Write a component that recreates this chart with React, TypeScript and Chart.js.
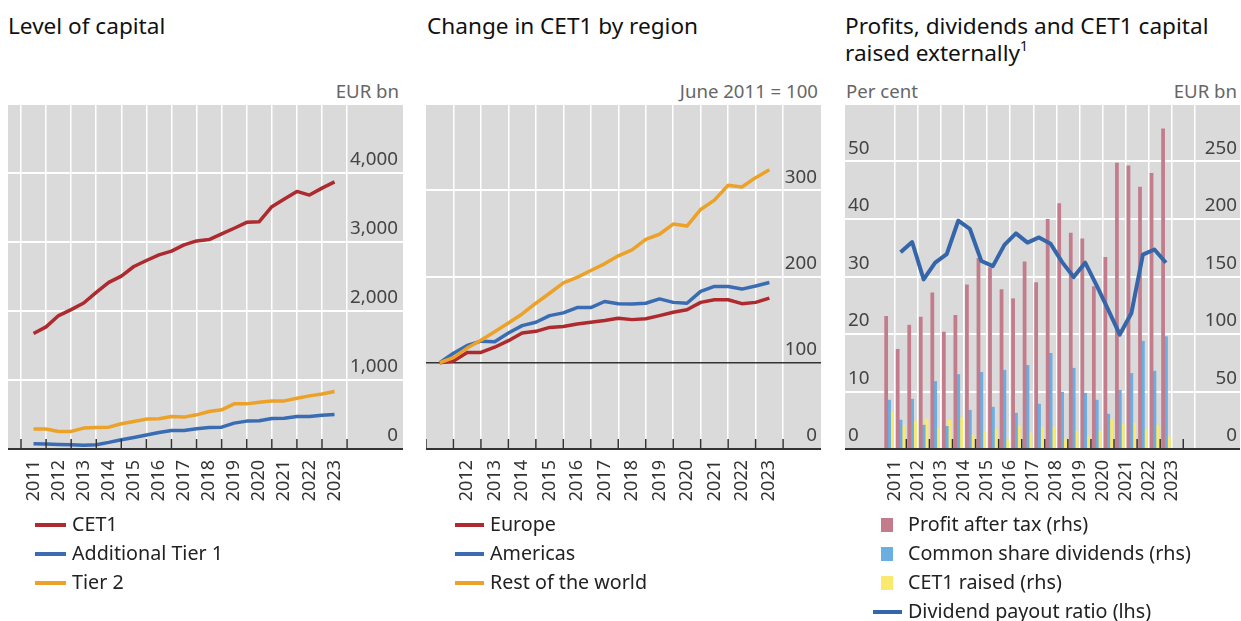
import React, { useEffect, useRef } from 'react';
import { Chart, registerables } from 'chart.js';

Chart.register(...registerables);

const FONT = '"Noto Sans", "Open Sans", "DejaVu Sans", sans-serif';

// ---------- shared periods (half-years) ----------
const PERIODS = [
  'H1 2011', 'H2 2011', 'H1 2012', 'H2 2012', 'H1 2013', 'H2 2013', 'H1 2014', 'H2 2014',
  'H1 2015', 'H2 2015', 'H1 2016', 'H2 2016', 'H1 2017', 'H2 2017', 'H1 2018', 'H2 2018',
  'H1 2019', 'H2 2019', 'H1 2020', 'H2 2020', 'H1 2021', 'H2 2021', 'H1 2022', 'H2 2022',
  'H1 2023',
];
const PAYOUT_PERIODS = [
  'H2 2011', 'H1 2012', 'H2 2012', 'H1 2013', 'H2 2013', 'H1 2014', 'H2 2014',
  'H1 2015', 'H2 2015', 'H1 2016', 'H2 2016', 'H1 2017', 'H2 2017', 'H1 2018', 'H2 2018',
  'H1 2019', 'H2 2019', 'H1 2020', 'H2 2020', 'H1 2021', 'H2 2021', 'H1 2022', 'H2 2022',
  'H1 2023',
];

// ---------- Panel 1: Level of capital (EUR bn) ----------
const CET1 = [1674, 1770, 1934, 2020, 2116, 2270, 2415, 2506, 2645, 2732, 2814, 2867, 2958, 3016, 3035, 3117, 3199, 3285, 3295, 3511, 3622, 3733, 3680, 3781, 3872];
const AT1 = [77, 72, 67, 62, 53, 62, 96, 135, 168, 202, 240, 269, 269, 293, 313, 317, 375, 404, 409, 443, 447, 471, 471, 490, 500];
const TIER2 = [289, 289, 255, 255, 303, 313, 317, 366, 399, 433, 438, 471, 462, 495, 543, 568, 654, 654, 678, 697, 697, 736, 770, 798, 832];
const CAP_YEAR_LABELS = ['2011', '2012', '2013', '2014', '2015', '2016', '2017', '2018', '2019', '2020', '2021', '2022', '2023'];
const CAP_GRID_YEARS = [2011, 2012, 2013, 2014, 2015, 2016, 2017, 2018, 2019, 2020, 2021, 2022, 2023, 2024];
const CAP_Y_GRID = [0, 1000, 2000, 3000, 4000, 5000];
const CAP_Y_LABELS = [0, 1000, 2000, 3000, 4000];

// ---------- Panel 2: Change in CET1 by region (June 2011 = 100) ----------
const EUROPE = [100, 102, 112, 112, 118, 125.6, 134.5, 136.4, 141, 142, 145, 147, 149, 151.6, 150, 151, 154.6, 158.5, 161.5, 170, 173, 173, 168.5, 170, 175];
const AMERICAS = [100, 111, 120, 125, 124.4, 134.5, 143, 147, 154.6, 157.8, 164, 164, 171, 168.5, 168, 169, 174, 170, 169, 182.7, 188.5, 188.5, 185.4, 189, 193];
const REST_OF_WORLD = [100, 106, 117, 126, 136, 146, 156.6, 169, 180.6, 192.6, 199, 207, 214.7, 224, 230.8, 243, 249, 260.8, 258.5, 277.7, 288.5, 305.8, 303.8, 314.6, 323.8];
const REG_YEAR_LABELS = ['2012', '2013', '2014', '2015', '2016', '2017', '2018', '2019', '2020', '2021', '2022', '2023'];
const REG_GRID_YEARS = [2012, 2013, 2014, 2015, 2016, 2017, 2018, 2019, 2020, 2021, 2022, 2023, 2024];
const REG_TICK_YEARS = [2011, 2012, 2013, 2014, 2015, 2016, 2017, 2018, 2019, 2020, 2021, 2022, 2023, 2024];
const REG_Y_GRID = [0, 100, 200, 300, 400];
const REG_Y_LABELS = [0, 100, 200, 300];

// ---------- Panel 3: Profits, dividends, CET1 raised ----------
const PROFIT = [115.6, 87, 108, 115, 136, 102, 116.5, 143, 166, 158, 139, 131, 163, 145, 200, 213.6, 188, 183, 141.6, 167, 249, 246.5, 228, 240, 278.6];
const DIVIDENDS = [42.8, 25.4, 43.6, 21, 59, 20, 65, 34, 67, 36.7, 68.8, 31.5, 73, 39.3, 83.5, 49.7, 70.5, 48.8, 42.8, 30.6, 51.4, 66, 94, 68, 98];
const CET1_RAISED = [32.4, 20.8, 24.6, 26.3, 18.5, 25.4, 28, 12.4, 15.9, 17.6, 8.1, 20.2, 14.2, 19.4, 19.4, 9, 15.9, 11.6, 15.9, 26.3, 22, 22.8, 16.8, 21, 10.7];
const PAYOUT = [34.2, 36.0, 29.5, 32.4, 33.9, 39.7, 38.3, 32.7, 31.8, 35.5, 37.5, 35.9, 36.8, 35.7, 32.5, 29.9, 32.4, 28.4, 24.2, 19.9, 23.6, 33.8, 34.7, 32.4];
const PRF_YEAR_LABELS = ['2011', '2012', '2013', '2014', '2015', '2016', '2017', '2018', '2019', '2020', '2021', '2022', '2023'];
const PRF_GRID_YEARS = [2012, 2013, 2014, 2015, 2016, 2017, 2018, 2019, 2020, 2021, 2022, 2023, 2024];
const PRF_L_GRID = [0, 10, 20, 30, 40, 50, 60];
const PRF_L_LABELS = [0, 10, 20, 30, 40, 50];
const PRF_R_GRID = [0, 50, 100, 150, 200, 250, 300];
const PRF_R_LABELS = [0, 50, 100, 150, 200, 250];

// ---------- colours ----------
const RED = '#ad2a2e';
const BLUE = '#3a6cb3';
const ORANGE = '#eca228';
const PINK = '#c27c8c';
const LIGHTBLUE = '#6aaee2';
const YELLOW = '#fbe86e';
const LINEBLUE = '#3566a9';
const PANEL_BG = '#dadada';

// period -> position on a year axis
const endOfHalf = (p: string) => {
  const [h, y] = p.split(' ');
  return Number(y) + (h === 'H1' ? 0.5 : 1.0);
};
const midOfHalf = (p: string) => {
  const [h, y] = p.split(' ');
  return Number(y) + (h === 'H1' ? 0.25 : 0.75);
};
const fmt = (v: number) => v.toLocaleString('en-US');

const PLOT_H = 345;
const LABEL_AXIS_H = 62;
const CANVAS_W = 395;
const CANVAS_H = PLOT_H + LABEL_AXIS_H;

type YLab = { id: string; side: 'left' | 'right'; pad: number; values: number[] };

function decorPlugin(tickYears: number[], yLabels: YLab[]) {
  return {
    id: 'decor',
    beforeDraw(chart: any) {
      const { ctx, chartArea: a } = chart;
      ctx.save();
      ctx.fillStyle = PANEL_BG;
      ctx.fillRect(a.left, a.top, a.right - a.left, a.bottom - a.top);
      ctx.restore();
    },
    afterDraw(chart: any) {
      const { ctx, chartArea: a } = chart;
      const xs = chart.scales.x;
      ctx.save();
      ctx.strokeStyle = '#333';
      ctx.lineWidth = 1.5;
      tickYears.forEach((yr) => {
        const px = xs.getPixelForValue(yr);
        ctx.beginPath();
        ctx.moveTo(px, a.bottom);
        ctx.lineTo(px, a.bottom - 10);
        ctx.stroke();
      });
      ctx.lineWidth = 2;
      ctx.beginPath();
      ctx.moveTo(a.left, a.bottom);
      ctx.lineTo(a.right, a.bottom);
      ctx.stroke();
      ctx.font = `18.8px ${FONT}`;
      ctx.fillStyle = '#444';
      ctx.textBaseline = 'middle';
      yLabels.forEach(({ id, side, pad, values }) => {
        const s = chart.scales[id];
        ctx.textAlign = side === 'right' ? 'right' : 'left';
        values.forEach((v) => {
          const py = s.getPixelForValue(v) - 13;
          ctx.fillText(fmt(v), side === 'right' ? a.right - pad : a.left + pad, py);
        });
      });
      ctx.restore();
    },
  };
}

function xScales(min: number, max: number, gridYears: number[], labels: string[]) {
  return {
    x: {
      type: 'linear',
      position: 'bottom',
      min,
      max,
      weight: 0,
      afterBuildTicks: (ax: any) => {
        ax.ticks = gridYears.map((v) => ({ value: v }));
      },
      afterFit: (s: any) => {
        s.height = 0;
      },
      ticks: { display: false },
      grid: { color: '#ffffff', lineWidth: 1.5, drawTicks: false },
      border: { display: false },
    },
    xl: {
      type: 'linear',
      position: 'bottom',
      min,
      max,
      weight: 1,
      afterBuildTicks: (ax: any) => {
        ax.ticks = labels.map((l) => ({ value: Number(l) + 0.5 }));
      },
      afterFit: (s: any) => {
        s.height = LABEL_AXIS_H;
      },
      grid: { display: false, drawTicks: false },
      border: { display: false },
      ticks: {
        autoSkip: false,
        minRotation: 90,
        maxRotation: 90,
        padding: 11,
        color: '#333',
        font: { family: FONT, size: 18 },
        callback: (_v: any, i: number) => labels[i],
      },
    },
  };
}

function yScale(id: string, position: string, min: number, max: number, grid: number[], showGrid: boolean, gridColor?: (ctx: any) => string) {
  return {
    [id]: {
      type: 'linear',
      position,
      min,
      max,
      afterBuildTicks: (ax: any) => {
        ax.ticks = grid.map((v) => ({ value: v }));
      },
      afterFit: (s: any) => {
        s.width = 0;
      },
      ticks: { display: false },
      grid: {
        display: showGrid,
        color: gridColor || '#ffffff',
        lineWidth: (ctx: any) => (ctx.tick && ctx.tick.value === 100 && gridColor ? 1.5 : 2),
        drawTicks: false,
      },
      border: { display: false },
    },
  };
}

const baseOptions = {
  animation: false,
  responsive: false,
  maintainAspectRatio: false,
  events: [],
  layout: { padding: 0 },
  plugins: { legend: { display: false }, tooltip: { enabled: false } },
};

function lineDs(label: string, periods: string[], values: number[], color: string, width: number) {
  return {
    type: 'line',
    label,
    data: periods.map((p, i) => ({ x: endOfHalf(p), y: values[i] })),
    borderColor: color,
    backgroundColor: color,
    borderWidth: width,
    pointRadius: 0,
    tension: 0,
    borderJoinStyle: 'round',
    xAxisID: 'x',
  };
}

function makeCapital() {
  return {
    type: 'line',
    data: {
      datasets: [
        lineDs('Tier 2', PERIODS, TIER2, ORANGE, 3.5),
        lineDs('Additional Tier 1', PERIODS, AT1, BLUE, 3.5),
        lineDs('CET1', PERIODS, CET1, RED, 3.5),
      ],
    },
    options: {
      ...baseOptions,
      scales: {
        ...xScales(2010.482, 2026.23, CAP_GRID_YEARS, CAP_YEAR_LABELS),
        ...yScale('y', 'right', 0, 5000, CAP_Y_GRID, true),
      },
    },
    plugins: [decorPlugin(CAP_GRID_YEARS, [{ id: 'y', side: 'right', pad: 5, values: CAP_Y_LABELS }])],
  };
}

function makeRegion() {
  return {
    type: 'line',
    data: {
      datasets: [
        lineDs('Rest of the world', PERIODS, REST_OF_WORLD, ORANGE, 3.5),
        lineDs('Americas', PERIODS, AMERICAS, BLUE, 3.5),
        lineDs('Europe', PERIODS, EUROPE, RED, 3.5),
      ],
    },
    options: {
      ...baseOptions,
      scales: {
        ...xScales(2011, 2025.38, REG_GRID_YEARS, REG_YEAR_LABELS),
        ...yScale('y', 'right', 0, 400, REG_Y_GRID, true, (ctx: any) => (ctx.tick && ctx.tick.value === 100 ? '#333333' : '#ffffff')),
      },
    },
    plugins: [decorPlugin(REG_TICK_YEARS, [{ id: 'y', side: 'right', pad: 4, values: REG_Y_LABELS }])],
  };
}

function makeProfits() {
  const bar = (label: string, values: number[], color: string) => ({
    type: 'bar',
    label,
    data: PERIODS.map((p, i) => ({ x: midOfHalf(p), y: values[i] })),
    backgroundColor: color,
    borderWidth: 0,
    xAxisID: 'x',
    yAxisID: 'yr',
    categoryPercentage: 0.75,
    barPercentage: 1.3,
    order: 2,
  });
  return {
    type: 'bar',
    data: {
      datasets: [
        bar('Profit after tax (rhs)', PROFIT, PINK),
        bar('Common share dividends (rhs)', DIVIDENDS, LIGHTBLUE),
        bar('CET1 raised (rhs)', CET1_RAISED, YELLOW),
        {
          type: 'line',
          label: 'Dividend payout ratio (lhs)',
          data: PAYOUT_PERIODS.map((p, i) => ({ x: midOfHalf(p), y: PAYOUT[i] })),
          borderColor: LINEBLUE,
          backgroundColor: LINEBLUE,
          borderWidth: 4,
          pointRadius: 0,
          tension: 0,
          borderJoinStyle: 'round',
          xAxisID: 'x',
          yAxisID: 'y',
          order: 0,
        },
      ],
    },
    options: {
      ...baseOptions,
      scales: {
        ...xScales(2010, 2025.8, PRF_GRID_YEARS, PRF_YEAR_LABELS),
        ...yScale('y', 'left', 0, 60, PRF_L_GRID, true),
        ...yScale('yr', 'right', 0, 300, PRF_R_GRID, false),
      },
    },
    plugins: [
      decorPlugin(PRF_GRID_YEARS, [
        { id: 'y', side: 'left', pad: 3, values: PRF_L_LABELS },
        { id: 'yr', side: 'right', pad: 3, values: PRF_R_LABELS },
      ]),
    ],
  };
}

function ChartCanvas({ make, left, top }: { make: () => any; left: number; top: number }) {
  const ref = useRef<HTMLCanvasElement | null>(null);
  useEffect(() => {
    const chart = new Chart(ref.current as HTMLCanvasElement, make());
    return () => chart.destroy();
  }, []);
  return (
    <canvas
      ref={ref}
      width={CANVAS_W}
      height={CANVAS_H}
      style={{ position: 'absolute', left, top, width: CANVAS_W, height: CANVAS_H }}
    />
  );
}

const txt = (extra: React.CSSProperties): React.CSSProperties => ({
  position: 'absolute',
  fontFamily: FONT,
  whiteSpace: 'nowrap',
  ...extra,
});

function Title({ left, children }: { left: number; children: React.ReactNode }) {
  return <div style={txt({ left, top: 12, fontSize: 22.6, lineHeight: '27px', color: '#111' })}>{children}</div>;
}

function Unit({ left, right, children }: { left?: number; right?: number; children: React.ReactNode }) {
  const s: React.CSSProperties = { top: 80, fontSize: 18.6, lineHeight: '22px', color: '#666' };
  if (left !== undefined) s.left = left;
  if (right !== undefined) s.right = right;
  return <div style={txt(s)}>{children}</div>;
}

function LegendItem({ x, textX, cy, kind, color, label }: { x: number; textX: number; cy: number; kind: 'line' | 'box'; color: string; label: string }) {
  const sw =
    kind === 'line'
      ? { left: x, top: cy - 2, width: textX - x - 6, height: 4 }
      : { left: x, top: cy - 7, width: 12, height: 14 };
  return (
    <>
      <div style={{ position: 'absolute', background: color, ...sw }} />
      <div style={txt({ left: textX, top: cy - 12, fontSize: 19.7, lineHeight: '22px', color: '#222' })}>{label}</div>
    </>
  );
}

export default function App() {
  return (
    <div style={{ position: 'absolute', left: 0, top: 0, width: 1241, height: 621, background: '#fff', overflow: 'hidden' }}>
      <Title left={8}>Level of capital</Title>
      <Title left={427}>Change in CET1 by region</Title>
      <Title left={845}>
        Profits, dividends and CET1 capital
        <br />
        raised externally<span style={{ fontSize: 14, position: 'relative', top: -10 }}>1</span>
      </Title>

      <Unit right={1241 - 399}>EUR bn</Unit>
      <Unit right={1241 - 818}>June 2011 = 100</Unit>
      <Unit left={846}>Per cent</Unit>
      <Unit right={4}>EUR bn</Unit>

      <ChartCanvas make={makeCapital} left={8} top={104} />
      <ChartCanvas make={makeRegion} left={426} top={104} />
      <ChartCanvas make={makeProfits} left={845} top={104} />

      <LegendItem x={35} textX={72} cy={525} kind="line" color={RED} label="CET1" />
      <LegendItem x={35} textX={72} cy={554} kind="line" color={BLUE} label="Additional Tier 1" />
      <LegendItem x={35} textX={72} cy={583} kind="line" color={ORANGE} label="Tier 2" />

      <LegendItem x={455} textX={490} cy={525} kind="line" color={RED} label="Europe" />
      <LegendItem x={455} textX={490} cy={554} kind="line" color={BLUE} label="Americas" />
      <LegendItem x={455} textX={490} cy={583} kind="line" color={ORANGE} label="Rest of the world" />

      <LegendItem x={881} textX={908} cy={525} kind="box" color={PINK} label="Profit after tax (rhs)" />
      <LegendItem x={881} textX={908} cy={554} kind="box" color={LIGHTBLUE} label="Common share dividends (rhs)" />
      <LegendItem x={881} textX={908} cy={583} kind="box" color={YELLOW} label="CET1 raised (rhs)" />
      <LegendItem x={873} textX={908} cy={612} kind="line" color={LINEBLUE} label="Dividend payout ratio (lhs)" />
    </div>
  );
}
